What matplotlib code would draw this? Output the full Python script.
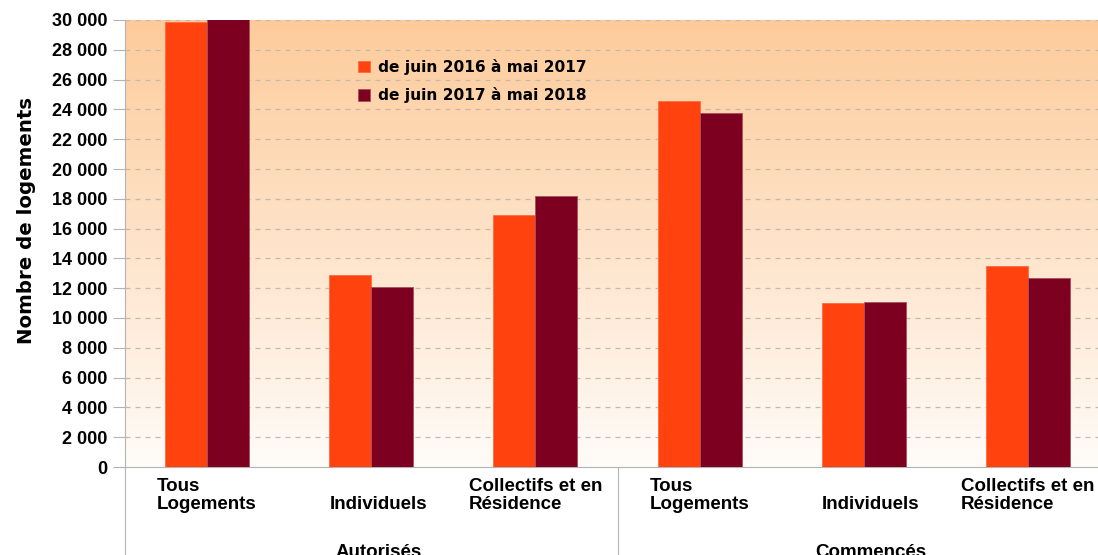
import matplotlib.pyplot as plt
import numpy as np
from matplotlib.colors import LinearSegmentedColormap

# data
categories = ["Tous\nLogements", "Individuels", "Collectifs et en\nRésidence",
              "Tous\nLogements", "Individuels", "Collectifs et en\nRésidence"]
groups = ["Autorisés", "Commencés"]
serie_2016 = [29870, 12900, 16920, 24560, 11010, 13520]
serie_2017 = [30100, 12080, 18160, 23760, 11070, 12660]
labels = ["de juin 2016 à mai 2017", "de juin 2017 à mai 2018"]
yticks = list(range(0, 30001, 2000))

orange = "#FF420E"
bordeaux = "#7E0021"

fig = plt.figure(figsize=(10.98, 5.55), dpi=100)
W, H = 1098, 555
ax = fig.add_axes([125 / W, (H - 467) / H, (1110 - 125) / W, (467 - 20) / H])

# gradient background
cmap = LinearSegmentedColormap.from_list("bg", ["#FFFCF9", "#FDCB9A"])
grad = np.linspace(0, 1, 256).reshape(-1, 1)
ax.imshow(grad, aspect="auto", cmap=cmap, origin="lower",
          extent=[-0.5, 5.5, 0, 30000], zorder=0)

x = np.arange(len(categories))
w = 42 / 164
ax.bar(x - w / 2, serie_2016, width=w, color=orange, edgecolor="#FF6A40",
       linewidth=0.6, zorder=3, label=labels[0])
ax.bar(x + w / 2, serie_2017, width=w, color=bordeaux, edgecolor="#A8505F",
       linewidth=0.6, zorder=3, label=labels[1])

ax.set_xlim(-0.5, 5.5)
ax.set_ylim(0, 30000)
ax.set_yticks(yticks)
ax.set_yticklabels([f"{v:,}".replace(",", " ") for v in yticks],
                   fontfamily="Liberation Sans", fontweight="bold", fontsize=13)
ax.set_xticks([])
for t in yticks[1:]:
    ax.axhline(t, color="#C8B8A8", linestyle=(0, (4, 4)), linewidth=0.9, zorder=1)

for s in ["top", "right"]:
    ax.spines[s].set_visible(False)
ax.spines["left"].set_color("#B3B3B3")
ax.spines["bottom"].set_color("#B3B3B3")
ax.tick_params(axis="y", length=8.6, color="#B3B3B3", pad=4.3)

ax.set_ylabel("Nombre de logements", fontfamily="DejaVu Sans", fontweight="bold",
              fontsize=14.2)
ax.yaxis.set_label_coords(-89 / 985, (467 - 220) / 447)

# category labels (single-line ones sit on the second line, slightly shifted)
off = 7 / 164
for i, c in enumerate(categories):
    xi = i if "\n" in c else i + off
    ax.text(xi, -3100, c, ha="center", va="bottom", multialignment="left",
            fontfamily="Liberation Sans", fontweight="bold", fontsize=13.5,
            linespacing=1.1, clip_on=False)

# group labels and separators
for k, g in enumerate(groups):
    ax.text(3 * k + 1 + off, -5170, g, ha="center", va="top",
            fontfamily="Liberation Sans", fontweight="bold", fontsize=13.5,
            clip_on=False)
for xs in [-0.5, 2.5]:
    ax.plot([xs, xs], [0, -6000], color="#B3B3B3", linewidth=0.8, clip_on=False)

leg = ax.legend(loc="upper left", bbox_to_anchor=((344 - 125) / 985, (467 - 45) / 447),
                frameon=False, handlelength=0.8, handleheight=0.8,
                handletextpad=0.5, labelspacing=0.8,
                prop={"family": "DejaVu Sans", "weight": "bold", "size": 11.1})

fig.savefig("out.png", dpi=100)
